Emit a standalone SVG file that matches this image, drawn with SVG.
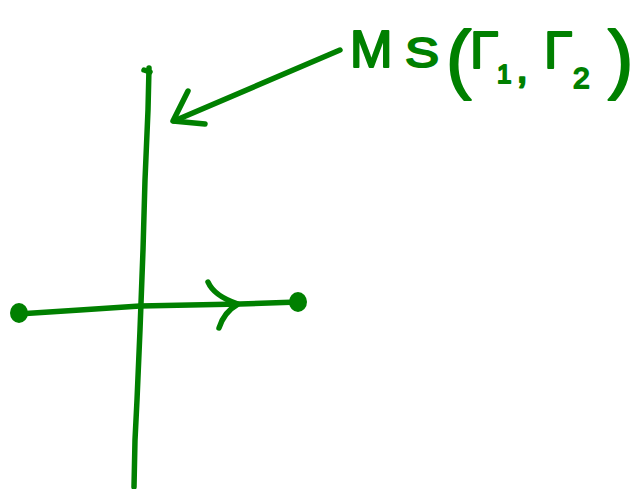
<svg xmlns="http://www.w3.org/2000/svg" width="638" height="489" viewBox="0 0 638 489">
<style>
.s{fill:none;stroke:#008000;stroke-width:5.5;stroke-linecap:round;stroke-linejoin:round}
.d{fill:#008000}
.t{fill:#008000;stroke:#008000;stroke-width:2;stroke-linejoin:round;font-family:"Liberation Sans",Arial,sans-serif}
</style>
<rect width="638" height="489" fill="#ffffff"/>
<g id="connectors">
<path class="s" d="M149,68 L148,110 L145,180 L143,250 L140,330 L137,400 L135,440 L134,487"/>
<path class="s" d="M144,70 L150,72"/>
<path class="s" d="M18,314 L80,310 L140,306 L240,304 L298,302"/>
<path class="s" d="M208,282 Q214,296 238,304 Q224,312 219,328"/>
<path class="s" d="M340,50 L174,121"/>
<path class="s" d="M188,91 L173,121 L205,124"/>
</g>
<g id="start-dot"><ellipse class="d" cx="19" cy="313" rx="9" ry="10"/></g>
<g id="end-dot"><ellipse class="d" cx="298" cy="302" rx="9" ry="10"/></g>
<g id="label">
<text class="t" x="350" y="67" font-size="51">M</text>
<text class="t" x="405" y="67" font-size="42" textLength="34" lengthAdjust="spacingAndGlyphs">S</text>
<text class="t" x="446" y="84" font-size="76">(</text>
<text class="t" x="470" y="68" font-size="52">Γ</text>
<text class="t" x="497" y="83" font-size="26">1</text>
<text class="t" x="516" y="82" font-size="44">,</text>
<text class="t" x="544" y="68" font-size="52">Γ</text>
<text class="t" x="573" y="88" font-size="30">2</text>
<text class="t" x="608" y="84" font-size="76">)</text>
</g>
</svg>
